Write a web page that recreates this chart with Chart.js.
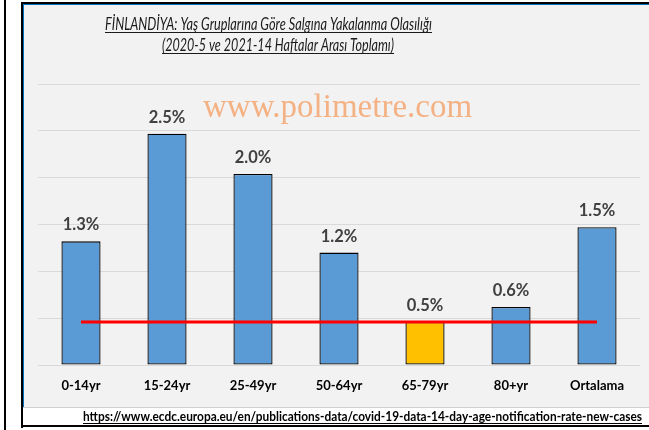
<!DOCTYPE html>
<html>
<head>
<meta charset="utf-8">
<script src="https://cdn.jsdelivr.net/npm/chart.js@4"></script>
<style>
html,body{margin:0;padding:0;background:#fff;}
#wrap{width:649px;height:430px;position:relative;}
</style>
</head>
<body>
<div id="wrap"><canvas id="c" width="649" height="430"></canvas></div>
<script>
const categories = ['0-14yr', '15-24yr', '25-49yr', '50-64yr', '65-79yr', '80+yr', 'Ortalama'];
const rates = [1.32, 2.47, 2.04, 1.20, 0.46, 0.62, 1.47];
const referenceLevel = [0.46, 0.46, 0.46, 0.46, 0.46, 0.46, 0.46];
const barColors = ['#5b9bd5', '#5b9bd5', '#5b9bd5', '#5b9bd5', '#ffc000', '#5b9bd5', '#5b9bd5'];
const yTicks = [0, 0.5, 1.0, 1.5, 2.0, 2.5, 3.0];
const titleLines = ['FİNLANDİYA: Yaş Gruplarına Göre Salgına Yakalanma Olasılığı', '(2020-5 ve 2021-14 Haftalar Arası Toplamı)'];
const watermark = 'www.polimetre.com';
const sourceText = 'https://www.ecdc.europa.eu/en/publications-data/covid-19-data-14-day-age-notification-rate-new-cases';

const SANS = 'Lato, "Open Sans", "DejaVu Sans", sans-serif';

function drawFitted(ctx, text, font, anchorX, baseline, targetW, align) {
  ctx.save();
  ctx.font = font;
  ctx.textAlign = 'left';
  ctx.textBaseline = 'alphabetic';
  const w = ctx.measureText(text).width;
  const sx = targetW / w;
  let x0 = anchorX;
  if (align === 'center') x0 = anchorX - targetW / 2;
  else if (align === 'right') x0 = anchorX - targetW;
  ctx.translate(x0, baseline);
  ctx.scale(sx, 1);
  ctx.fillText(text, 0, 0);
  ctx.restore();
  ctx.fillRect(Math.round(x0), Math.round(baseline + 2), Math.round(targetW), 1);
}

const framePlugin = {
  id: 'frame',
  beforeDraw(chart) {
    const ctx = chart.ctx;
    ctx.save();
    ctx.fillStyle = '#ffffff';
    ctx.fillRect(0, 0, 649, 430);
    ctx.fillStyle = '#000000';
    ctx.fillRect(4, 0, 2, 430);
    ctx.fillRect(21, 2, 628, 2);
    ctx.fillRect(21, 2, 2, 426);
    ctx.fillRect(21, 425, 628, 2);
    ctx.fillStyle = '#f2f2f2';
    ctx.fillRect(24, 5, 625, 402);
    ctx.fillStyle = '#0070c0';
    ctx.fillRect(23, 4, 626, 1);
    ctx.fillRect(23, 4, 1, 403);
    ctx.fillStyle = '#d0d0d0';
    ctx.fillRect(23, 407, 626, 1);
    ctx.restore();
  },
  beforeDatasetsDraw(chart) {
    const ctx = chart.ctx;
    ctx.save();
    ctx.fillStyle = '#f4b183';
    ctx.font = '33px "Liberation Serif", "Times New Roman", serif';
    ctx.textAlign = 'left';
    ctx.textBaseline = 'alphabetic';
    ctx.fillText(watermark, 203, 117);
    ctx.restore();
  },
  afterDraw(chart) {
    const ctx = chart.ctx;
    ctx.save();
    ctx.fillStyle = '#1a1a1a';
    drawFitted(ctx, titleLines[0], 'italic 17px ' + SANS, 268.5, 30, 327, 'center');
    drawFitted(ctx, titleLines[1], 'italic 17px ' + SANS, 278, 51, 232, 'center');
    const meta = chart.getDatasetMeta(0);
    ctx.fillStyle = '#404040';
    ctx.font = 'bold 16.5px ' + SANS;
    ctx.textAlign = 'center';
    ctx.textBaseline = 'alphabetic';
    meta.data.forEach((bar, i) => {
      ctx.fillText(rates[i].toFixed(1) + '%', bar.x, bar.y - 11);
    });
    ctx.fillStyle = '#000000';
    drawFitted(ctx, sourceText, 'bold 14px ' + SANS, 642, 421, 559, 'right');
    ctx.restore();
  }
};

new Chart(document.getElementById('c'), {
  data: {
    labels: categories,
    datasets: [
      {
        type: 'bar',
        data: rates,
        backgroundColor: barColors,
        borderColor: '#000000',
        borderWidth: 1.3,
        borderSkipped: false,
        barPercentage: 0.455,
        categoryPercentage: 1.0,
        order: 2
      },
      {
        type: 'line',
        data: referenceLevel,
        borderColor: '#ff0000',
        borderWidth: 3,
        pointRadius: 0,
        fill: false,
        order: 1
      }
    ]
  },
  plugins: [framePlugin],
  options: {
    responsive: false,
    animation: false,
    events: [],
    layout: { padding: { left: 38, right: 9, top: 84, bottom: 0 } },
    plugins: {
      legend: { display: false },
      title: { display: false },
      tooltip: { enabled: false }
    },
    scales: {
      x: {
        grid: { display: false, drawTicks: false },
        border: { display: false },
        ticks: {
          color: '#000000',
          font: { family: SANS, weight: 'bold', size: 13 },
          padding: 13,
          maxRotation: 0
        },
        afterFit(s) { s.height = 65; }
      },
      y: {
        min: 0,
        max: 3,
        afterBuildTicks(s) { s.ticks = yTicks.map(v => ({ value: v })); },
        grid: { color: '#d9d9d9', lineWidth: 1, drawTicks: false },
        border: { display: false },
        ticks: { display: false },
        afterFit(s) { s.width = 0; }
      }
    }
  }
});
</script>
</body>
</html>
